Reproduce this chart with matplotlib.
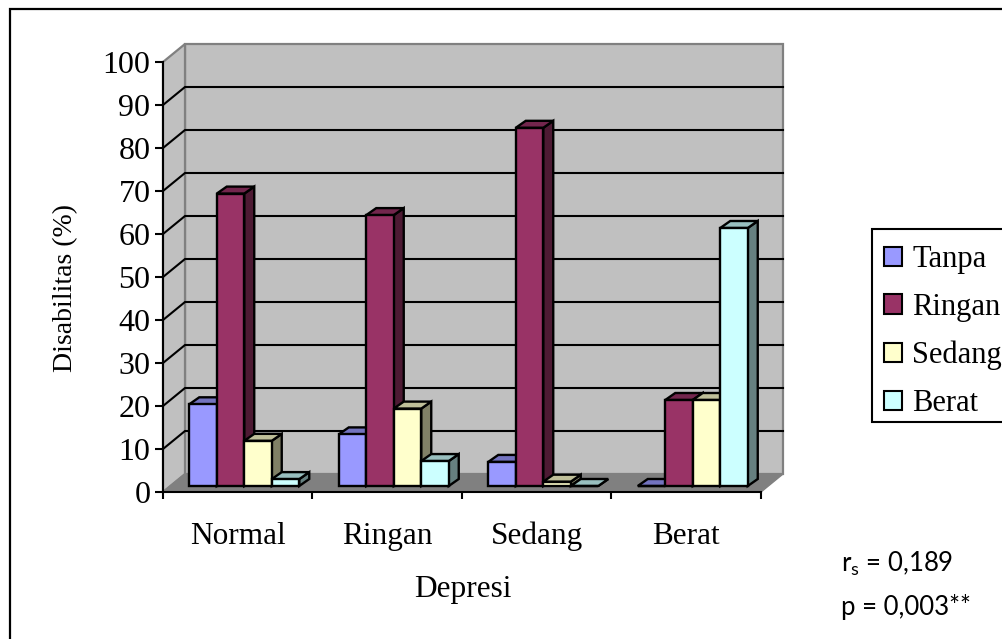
import matplotlib
matplotlib.use('Agg')
import matplotlib.pyplot as plt
from matplotlib.patches import Polygon, Patch, Rectangle

plt.rcParams['font.family'] = ['Liberation Serif']
plt.rcParams['mathtext.fontset'] = 'custom'
plt.rcParams['mathtext.rm'] = 'Lato'

# Data
categories = ['Normal', 'Ringan', 'Sedang', 'Berat']
tanpa = [19, 12, 5.6, 0]
ringan = [68, 63, 83.3, 20]
sedang = [10.5, 18, 1, 20]
berat = [1.6, 5.8, 0, 60]
series_names = ['Tanpa', 'Ringan', 'Sedang', 'Berat']
y_ticks = list(range(0, 101, 10))

# Colours: front, top, side
front_colors = ['#9999FF', '#993366', '#FFFFCC', '#CCFFFF']
top_colors = ['#7373BF', '#73264D', '#BFBF99', '#99BFBF']
side_colors = ['#4D4D80', '#4D1A33', '#808066', '#668080']

W, H = 1003, 639
fig = plt.figure(figsize=(W / 100, H / 100), dpi=100)
ax = fig.add_axes([163 / W, (H - 492) / H, 598 / W, 430 / H])
ax.set_xlim(0, 4)
ax.set_ylim(0, 100)
ax.patch.set_visible(False)

# Outer frame, runs off the right and bottom of the picture
fig.add_artist(Rectangle((10 / W, -20 / H), 1040 / W, 650 / H, fill=False, ec='black', lw=1.6,
                         transform=fig.transFigure))

# Depth of the box and of the bars (in data units)
wall_dx = 22 / 149.5
wall_dy = 18 / 4.3
bar_off_x = 6.5 / 149.5
bar_off_y = 6 / 4.3
bar_dx = 10 / 149.5
bar_dy = 7 / 4.3
bar_w = 27.5 / 149.5
margin = (1 - 4 * bar_w) / 2

# Walls and floor
ax.add_patch(Polygon([(wall_dx, wall_dy), (4 + wall_dx, wall_dy), (4 + wall_dx, 100 + wall_dy), (wall_dx, 100 + wall_dy)],
                     fc='#C0C0C0', ec='#808080', lw=1.6, clip_on=False, zorder=1))
ax.add_patch(Polygon([(0, 0), (wall_dx, wall_dy), (wall_dx, 100 + wall_dy), (0, 100)],
                     fc='#C0C0C0', ec='#808080', lw=1.6, clip_on=False, zorder=1))
ax.add_patch(Polygon([(0, 0), (4, 0), (4 + wall_dx, wall_dy), (wall_dx, wall_dy)],
                     fc='#808080', ec='#808080', lw=1, clip_on=False, zorder=1))

# Gridlines on the back and left walls
for v in y_ticks[1:-1]:
    ax.plot([0, wall_dx, 4 + wall_dx], [v, v + wall_dy, v + wall_dy], color='black', lw=1.5,
            clip_on=False, zorder=2, solid_joinstyle='miter')

# Bars
all_series = [tanpa, ringan, sedang, berat]
z = 3
for c in range(len(categories)):
    for s, values in enumerate(all_series):
        val = values[c]
        x0 = c + margin + bar_off_x + s * bar_w
        x1 = x0 + bar_w
        y0 = bar_off_y
        y1 = y0 + val
        ax.add_patch(Polygon([(x1, y0), (x1 + bar_dx, y0 + bar_dy), (x1 + bar_dx, y1 + bar_dy), (x1, y1)],
                             fc=side_colors[s], ec='black', lw=1.7, clip_on=False, zorder=z))
        ax.add_patch(Polygon([(x0, y1), (x1, y1), (x1 + bar_dx, y1 + bar_dy), (x0 + bar_dx, y1 + bar_dy)],
                             fc=top_colors[s], ec='black', lw=1.7, clip_on=False, zorder=z))
        ax.add_patch(Rectangle((x0, y0), bar_w, val, fc=front_colors[s], ec='black', lw=1.7,
                               clip_on=False, zorder=z))
        z += 1

# Axes
for side in ['top', 'right']:
    ax.spines[side].set_visible(False)
for side in ['left', 'bottom']:
    ax.spines[side].set_linewidth(1.5)
    ax.spines[side].set_zorder(2)
ax.set_yticks(y_ticks)
ax.tick_params(axis='y', labelsize=23, length=6, width=1.5, pad=3)
ax.set_xticks(range(5))
ax.set_xticklabels([])
ax.tick_params(axis='x', which='major', length=5, width=1.5)
ax.set_xticks([i + 0.5 for i in range(4)], minor=True)
ax.set_xticklabels(categories, minor=True, fontsize=22.5)
ax.tick_params(axis='x', which='minor', length=0, pad=21.5)

fig.text(66 / W, 1 - 288 / H, 'Disabilitas (%)', rotation=90, fontsize=20, ha='center', va='center')
fig.text(463 / W, 1 - 590 / H, 'Depresi', fontsize=22.5, ha='center', va='center')

# Legend, box drawn apart so the rows can sit as in the picture
fig.add_artist(Rectangle((872 / W, 1 - 422 / H), 200 / W, 193 / H, fc='white', ec='black', lw=1.5,
                         transform=fig.transFigure))
handles = [Patch(fc=front_colors[i], ec='black', lw=1.5) for i in range(4)]
leg = fig.legend(handles, series_names, loc='upper left', bbox_to_anchor=(884 / W, 1 - 245 / H),
                 bbox_transform=fig.transFigure, fontsize=22, frameon=False, borderaxespad=0, borderpad=0,
                 handlelength=0.6, handleheight=0.6, handletextpad=0.33, labelspacing=0.62)

# Correlation note
fig.text(841 / W, 1 - 572 / H, 'r$_{\\mathrm{s}}$ = 0,189', family='Lato', fontsize=18.5, ha='left', va='baseline')
fig.text(841 / W, 1 - 615 / H, 'p = 0,003**', family='Lato', fontsize=18.5, ha='left', va='baseline')

fig.savefig('out.png', dpi=100)
